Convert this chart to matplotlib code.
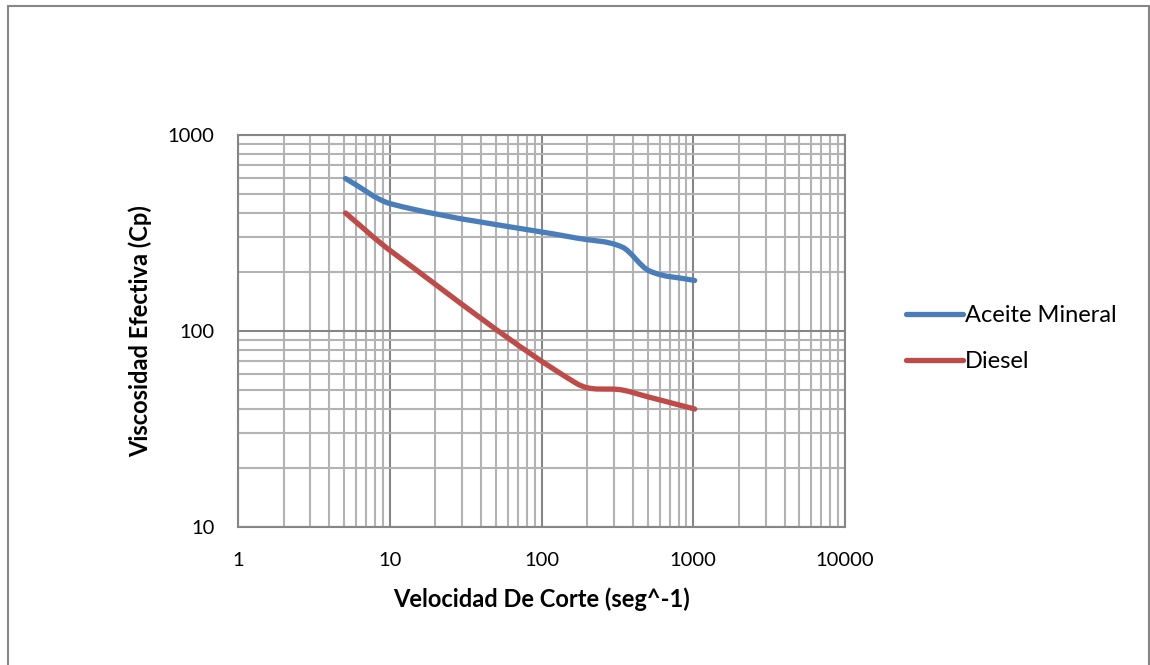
import numpy as np
import matplotlib
matplotlib.use("Agg")
import matplotlib.pyplot as plt
from matplotlib.path import Path
from matplotlib.patches import PathPatch, Rectangle
from matplotlib.lines import Line2D
from matplotlib.ticker import LogLocator, FixedLocator, NullFormatter

plt.rcParams['font.family'] = ['Lato', 'DejaVu Sans']

# shear rates (Fann: 3, 6, 100, 200, 300, 600 rpm)
shear = [5.11, 10.22, 170.3, 340.6, 510.9, 1021.8]
aceite = [600, 445, 298, 268, 203, 181]
diesel = [400, 255, 54, 50, 46, 40]
names = ["Aceite Mineral", "Diesel"]
colors = ["#4A7EBB", "#BE4B48"]


def smooth_path(xs, ys):
    # smoothed line like excel: bezier segments built in log space
    lx = np.log10(xs)
    ly = np.log10(ys)
    n = len(lx)
    m = np.zeros(n)
    for i in range(n):
        a = max(i - 1, 0)
        b = min(i + 1, n - 1)
        m[i] = (ly[b] - ly[a]) / (lx[b] - lx[a])
    verts = [(lx[0], ly[0])]
    codes = [Path.MOVETO]
    for i in range(n - 1):
        h = (lx[i + 1] - lx[i]) / 3.0
        verts.append((lx[i] + h, ly[i] + h * m[i]))
        verts.append((lx[i + 1] - h, ly[i + 1] - h * m[i + 1]))
        verts.append((lx[i + 1], ly[i + 1]))
        codes += [Path.CURVE4] * 3
    verts = 10 ** np.array(verts)
    return Path(verts, codes)


fig = plt.figure(figsize=(11.5, 6.65), dpi=100)
ax = fig.add_axes([238 / 1150, 1 - 527 / 665, (845 - 238) / 1150, (527 - 135) / 665])
ax.set_xscale('log')
ax.set_yscale('log')
ax.set_xlim(1, 10000)
ax.set_ylim(10, 1000)

ax.xaxis.set_major_locator(FixedLocator([1, 10, 100, 1000, 10000]))
ax.yaxis.set_major_locator(FixedLocator([10, 100, 1000]))
ax.xaxis.set_minor_locator(LogLocator(base=10, subs=np.arange(2, 10), numticks=20))
ax.yaxis.set_minor_locator(LogLocator(base=10, subs=np.arange(2, 10), numticks=20))
ax.xaxis.set_minor_formatter(NullFormatter())
ax.yaxis.set_minor_formatter(NullFormatter())
ax.set_xticklabels(["1", "10", "100", "1000", "10000"])
ax.set_yticklabels(["10", "100", "1000"])

ax.grid(True, which='major', color='#868686', lw=1.5)
ax.grid(True, which='minor', color='#B3B3B3', lw=1.5)
ax.set_axisbelow(True)
ax.tick_params(which='both', length=0, labelsize=14.5)
ax.tick_params(axis='x', pad=18)
ax.tick_params(axis='y', pad=17)
for s in ax.spines.values():
    s.set_color('#868686')
    s.set_linewidth(1.5)

for ys, c in zip([aceite, diesel], colors):
    patch = PathPatch(smooth_path(shear, ys), fill=False, edgecolor=c, lw=3.8,
                      capstyle='round', joinstyle='round', zorder=3)
    ax.add_patch(patch)

ax.set_xlabel("Velocidad De Corte (seg^-1)", fontsize=17, fontweight='bold', labelpad=13)
ax.set_ylabel("Viscosidad Efectiva (Cp)", fontsize=17, fontweight='bold', labelpad=11)

handles = [Line2D([0], [0], color=c, lw=3.8, solid_capstyle='round') for c in colors]
fig.legend(handles, names, loc='upper left', bbox_to_anchor=(885 / 1150, 1 - 284 / 665),
           frameon=False, fontsize=17, handlelength=2.4, handletextpad=0.1,
           labelspacing=1.05)

# chart frame (open at the bottom edge of the picture)
fig.patches.append(Rectangle((8 / 1150, -0.05), 1141 / 1150, 1.05 - 6 / 665,
                             transform=fig.transFigure, fill=False,
                             edgecolor='#868686', lw=1.5))

fig.savefig("out.png", dpi=100)
